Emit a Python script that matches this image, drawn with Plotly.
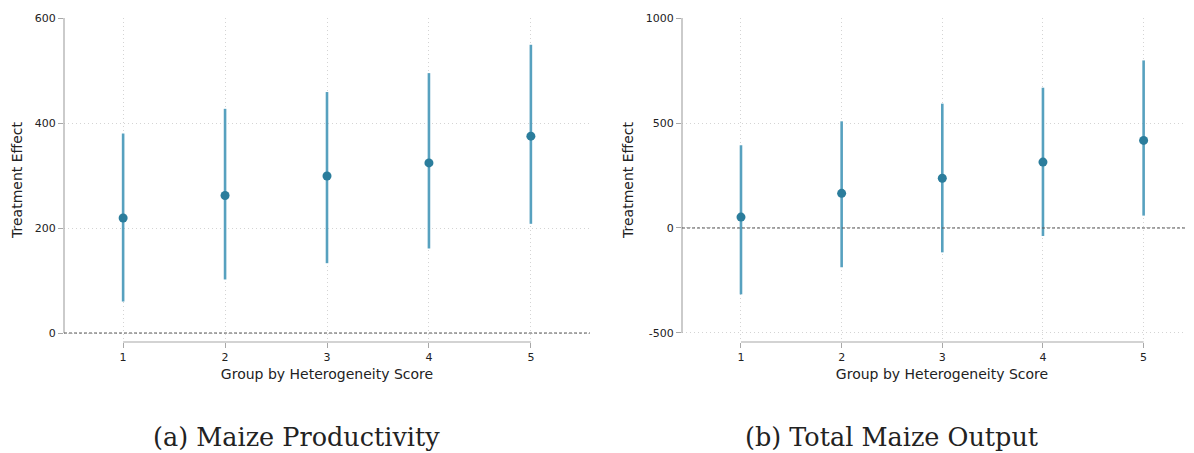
import plotly.graph_objects as go

groups = [1, 2, 3, 4, 5]
prod_est = [219, 262, 299, 324, 375]
prod_lo = [60, 102, 133, 161, 208]
prod_hi = [380, 427, 459, 495, 549]
out_est = [52, 165, 237, 314, 417]
out_lo = [-316, -187, -116, -38, 59]
out_hi = [394, 508, 592, 668, 798]
prod_ticks = [0, 200, 400, 600]
out_ticks = [-500, 0, 500, 1000]
panel_titles = ["(a) Maize Productivity", "(b) Total Maize Output"]
x_title = "Group by Heterogeneity Score"
y_title = "Treatment Effect"

W, H = 1194, 453
OFF = 8  # page body margin in the browser
dot_color = "#2b7d9c"
bar_color = "#57a1bf"
axis_gray = "#a8a8a8"

def px_x(x):
    return (x - OFF) / W

def px_y(y):
    return 1 - (y - OFF) / H

fig = go.Figure()

def add_panel(i, est, lo, hi):
    xa = "x" if i == 0 else "x2"
    ya = "y" if i == 0 else "y2"
    fig.add_trace(go.Scatter(
        x=groups, y=est, mode="markers", xaxis=xa, yaxis=ya,
        marker=dict(color=dot_color, size=9),
        error_y=dict(type="data", symmetric=False,
                     array=[h - e for h, e in zip(hi, est)],
                     arrayminus=[e - l for e, l in zip(est, lo)],
                     color=bar_color, thickness=2.6, width=0),
        showlegend=False, hoverinfo="skip"))

add_panel(0, prod_est, prod_lo, prod_hi)
add_panel(1, out_est, out_lo, out_hi)

dom1 = [px_x(64), px_x(590)]
dom2 = [px_x(682), 1.0]
ydom = [px_y(342), px_y(18)]

common_x = dict(tickvals=groups, ticks="outside", ticklen=5, tickcolor=axis_gray,
                showline=False, zeroline=False, showgrid=True, automargin=False,
                gridcolor="#d4d4d4", griddash="1px,3px", gridwidth=1,
                tickfont=dict(family="DejaVu Sans", size=11, color="#222"),
                title=dict(text=x_title, font=dict(family="DejaVu Sans", size=14, color="#222"), standoff=5))
common_y = dict(ticks="outside", ticklen=5, tickcolor=axis_gray, showline=False, automargin=False,
                zeroline=False, showgrid=True, gridcolor="#d4d4d4", griddash="1px,3px",
                tickfont=dict(family="DejaVu Sans", size=11, color="#222"),
                title=dict(text=y_title, font=dict(family="DejaVu Sans", size=14, color="#222"), standoff=8),
                domain=ydom)

fig.update_layout(
    width=W, height=H, margin=dict(l=0, r=0, t=0, b=0, autoexpand=False),
    paper_bgcolor="white", plot_bgcolor="white",
    xaxis=dict(domain=dom1, range=[0.42, 5.58], anchor="y", **common_x),
    yaxis=dict(range=[-17.1, 600], tickvals=prod_ticks, ticktext=[str(v) for v in prod_ticks],
               anchor="x", **common_y),
    xaxis2=dict(domain=dom2, range=[0.414, 5.58], anchor="y2", **common_x),
    yaxis2=dict(range=[-542.9, 1000], tickvals=out_ticks, ticktext=[str(v) for v in out_ticks],
                anchor="x2", **common_y),
)

shapes = []
for xa, ya, dom, ylo, yhi in [("x", "y", dom1, 0, 600), ("x2", "y2", dom2, -500, 1000)]:
    shapes.append(dict(type="line", xref="paper", yref=ya, x0=dom[0], x1=dom[0], y0=ylo, y1=yhi,
                       line=dict(color=axis_gray, width=1.2)))
    shapes.append(dict(type="line", xref=xa, yref=ya + " domain", x0=groups[0], x1=groups[-1], y0=0, y1=0,
                       line=dict(color=axis_gray, width=1.2)))
    shapes.append(dict(type="line", xref=xa + " domain", yref=ya, x0=0, x1=1, y0=0, y1=0,
                       line=dict(color="#555", width=1, dash="3px,2px")))
fig.update_layout(shapes=shapes)

for txt, cx in zip(panel_titles, [296, 892]):
    fig.add_annotation(text=txt, x=px_x(cx), y=px_y(437), xref="paper", yref="paper",
                       xanchor="center", yanchor="middle", showarrow=False,
                       font=dict(family="DejaVu Serif", size=25.5, color="#222"))

fig.write_html("out.html")
